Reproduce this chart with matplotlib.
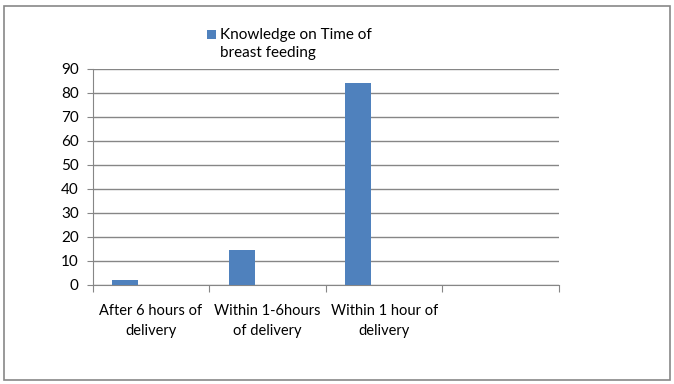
import matplotlib
matplotlib.use("Agg")
import matplotlib.pyplot as plt
from matplotlib.patches import Rectangle

categories = ["After 6 hours of\ndelivery", "Within 1-6hours\nof delivery", "Within 1 hour of\ndelivery", ""]
values = [2.2, 14.6, 84.0, None]
series_name = "Knowledge on Time of\nbreast feeding"
yticks = [0, 10, 20, 30, 40, 50, 60, 70, 80, 90]

plt.rcParams['font.family'] = ['Lato', 'DejaVu Sans']
W, H = 674, 384
fig = plt.figure(figsize=(W/100, H/100), dpi=100)
fig.patch.set_facecolor('white')

# outer border
fig.add_artist(Rectangle((3.5/W, 4/H), (669.5-3.5)/W, (379.5-5)/H, transform=fig.transFigure,
                         fill=False, edgecolor='#878787', lw=1.2))

ax = fig.add_axes([92.7/W, 1-285/H, (559-92.7)/W, (285-69)/H])
bar_color = '#4F81BD'
grid_color = '#868686'

xs = [i - 0.2222 for i in range(len(categories))]
for x, v in zip(xs, values):
    if v is not None:
        ax.bar(x, v, width=0.2222, color=bar_color, zorder=3)

ax.set_xlim(-0.5, len(categories) - 0.5)
ax.set_ylim(0, 90)
ax.set_yticks(yticks)
ax.set_yticklabels([str(t) for t in yticks], fontsize=11)
ax.yaxis.grid(True, color=grid_color, lw=1)
ax.set_axisbelow(True)
for s in ['top', 'right']:
    ax.spines[s].set_visible(False)
ax.spines['left'].set_color(grid_color)
ax.spines['bottom'].set_color(grid_color)
ax.tick_params(axis='y', length=4, color=grid_color, pad=6)

ax.set_xticks([i - 0.5 for i in range(len(categories) + 1)])
ax.set_xticklabels([])
ax.tick_params(axis='x', length=5, color=grid_color)
for i, c in enumerate(categories):
    ax.text(i, -7.8, c, ha='center', va='top', fontsize=10.5, linespacing=1.55,
            transform=ax.transData)

# legend
fig.add_artist(Rectangle((207/W, 1-39/H), 9/W, 9/H, transform=fig.transFigure,
                         facecolor=bar_color, edgecolor='none'))
fig.text(220/W, 1-44/H, series_name, ha='left', va='center', fontsize=11,
         linespacing=1.45)

fig.savefig("out.png", dpi=100)
